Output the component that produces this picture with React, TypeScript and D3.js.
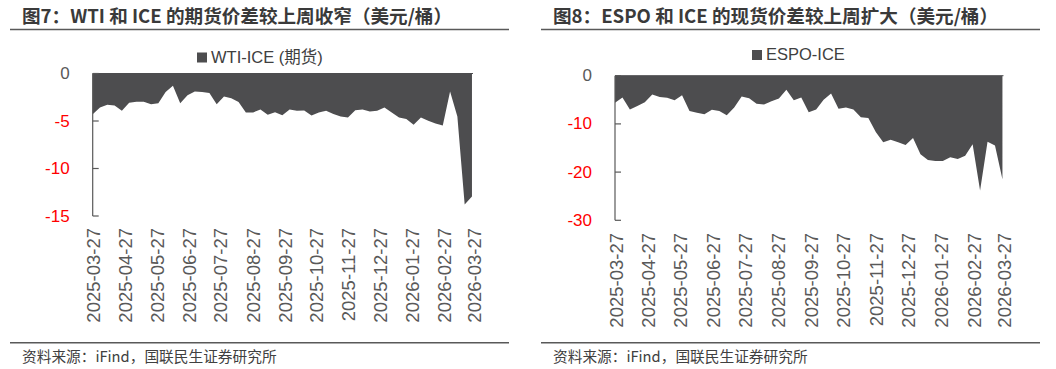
import React from "react";
import * as d3 from "d3";

const startDate = "2025-03-27";
const tickLabels = [
  "2025-03-27", "2025-04-27", "2025-05-27", "2025-06-27", "2025-07-27",
  "2025-08-27", "2025-09-27", "2025-10-27", "2025-11-27", "2025-12-27",
  "2026-01-27", "2026-02-27", "2026-03-27",
];

const wtiIce = [
  -4.28, -3.58, -3.3, -3.37, -3.93, -3.09, -2.98, -2.98, -3.23, -3.12,
  -1.96, -1.3, -3.12, -2.3, -1.9, -1.96, -2.04, -3.23, -2.42, -2.6,
  -3.0, -4.1, -4.1, -3.8, -4.35, -4.07, -4.4, -3.79, -3.93, -3.9,
  -4.42, -4.1, -3.93, -4.25, -4.53, -4.63, -3.86, -3.79, -4.0, -3.93,
  -3.58, -4.1, -4.63, -4.8, -5.4, -4.63, -4.98, -5.26, -5.47, -1.9,
  -4.53, -13.8, -12.95,
];

const espoIce = [
  -5.6, -4.5, -7.0, -6.3, -5.5, -3.9, -4.4, -4.55, -5.1, -4.05,
  -7.3, -7.7, -8.0, -7.06, -7.34, -8.2, -6.6, -4.3, -4.7, -5.8,
  -6.0, -5.3, -4.75, -2.9, -5.1, -4.5, -7.6, -7.0, -5.0, -3.7,
  -6.85, -6.6, -7.0, -8.6, -8.8, -11.7, -13.8, -13.3, -13.8, -14.4,
  -12.9, -16.3, -17.5, -17.7, -17.7, -16.9, -17.3, -16.6, -14.2, -23.8,
  -13.7, -14.5, -21.5,
];

const wtiTicks = [0, -5, -10, -15];
const espoTicks = [0, -10, -20, -30];

const parse = d3.timeParse("%Y-%m-%d");

function weeklyDates(n: number): Date[] {
  const s = parse(startDate) as Date;
  return d3.range(n).map((i) => d3.timeDay.offset(s, i * 7));
}

const FONT = "'Liberation Sans', 'Noto Sans CJK SC', sans-serif";
const CJK = "'Noto Sans CJK SC', sans-serif";

type ChartProps = {
  ox: number;
  title: string;
  legend: string;
  values: number[];
  ticks: number[];
  yMin: number;
  x0: number;
  x1: number;
  yTop: number;
  yBot: number;
  legendX: number;
  legendY: number;
  labelTop: number;
};

function Chart(p: ChartProps) {
  const dates = weeklyDates(p.values.length);
  const tickDates = tickLabels.map((t) => parse(t) as Date);
  const x = d3
    .scaleTime()
    .domain([tickDates[0], tickDates[tickDates.length - 1]])
    .range([p.x0, p.x1]);
  const y = d3.scaleLinear().domain([p.yMin, 0]).range([p.yBot, p.yTop]);
  const area = d3
    .area<number>()
    .x((_, i) => x(dates[i]))
    .y0(y(0))
    .y1((d) => y(d));
  const axisColor = "#595959";
  return (
    <g>
      <text
        x={p.ox + 22}
        y={23}
        fontFamily={CJK}
        fontWeight="bold"
        fontSize={18.6}
        fill="#3a3a3a"
      >
        {p.title}
      </text>
      <line x1={p.ox + 10} x2={p.ox + 509} y1={29.5} y2={29.5} stroke="#595959" strokeWidth={1.3} />
      <rect x={p.legendX} y={p.legendY - 10} width={10} height={10} fill="#4d4d4f" />
      <text x={p.legendX + 14} y={p.legendY} fontFamily={FONT} fontSize={16.5} fill="#404040">
        {p.legend}
      </text>
      <path d={area(p.values) || ""} fill="#4d4d4f" />
      <line x1={p.x0} x2={p.x1} y1={y(0)} y2={y(0)} stroke="#4d4d4f" strokeWidth={1} />
      <line x1={p.x0} x2={p.x0} y1={y(0)} y2={y(p.yMin)} stroke={axisColor} strokeWidth={1.2} />
      {p.ticks.map((t) => (
        <g key={t}>
          <line x1={p.x0} x2={p.x0 + 6} y1={y(t)} y2={y(t)} stroke={axisColor} strokeWidth={1.2} />
          <text
            x={p.x0 - 23}
            y={y(t)}
            textAnchor="end"
            dominantBaseline="central"
            fontFamily={FONT}
            fontSize={17}
            fill={t < 0 ? "#ff0000" : "#595959"}
          >
            {t}
          </text>
        </g>
      ))}
      {tickDates.map((d, i) => (
        <text
          key={i}
          transform={`translate(${x(d) + 1},${p.labelTop}) rotate(-90)`}
          textAnchor="end"
          dominantBaseline="central"
          fontFamily={FONT}
          fontSize={18.5}
          fill="#595959"
        >
          {tickLabels[i]}
        </text>
      ))}
      <line x1={p.ox + 10} x2={p.ox + 509} y1={342.7} y2={342.7} stroke="#595959" strokeWidth={1.5} />
      <text x={p.ox + 22} y={362} fontFamily={CJK} fontSize={14.7} fill="#404040">
        资料来源：iFind，国联民生证券研究所
      </text>
    </g>
  );
}

export default function App() {
  return (
    <svg
      width={1056}
      height={369}
      style={{ position: "absolute", left: 0, top: 0, background: "#fff" }}
    >
      <rect width={1056} height={369} fill="#fff" />
      <Chart
        ox={0}
        title="图7：WTI 和 ICE 的期货价差较上周收窄（美元/桶）"
        legend="WTI-ICE (期货)"
        values={wtiIce}
        ticks={wtiTicks}
        yMin={-15}
        x0={92.7}
        x1={473}
        yTop={73.5}
        yBot={216}
        legendX={197}
        legendY={62.5}
        labelTop={228}
      />
      <Chart
        ox={531}
        title="图8：ESPO 和 ICE 的现货价差较上周扩大（美元/桶）"
        legend="ESPO-ICE"
        values={espoIce}
        ticks={espoTicks}
        yMin={-30}
        x0={615}
        x1={1003.5}
        yTop={75.7}
        yBot={220.3}
        legendX={752}
        legendY={60}
        labelTop={233}
      />
    </svg>
  );
}
